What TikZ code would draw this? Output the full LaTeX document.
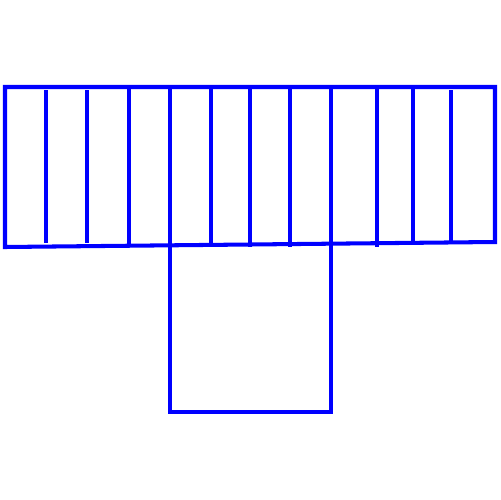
\documentclass[tikz,border=0pt]{standalone}
\usetikzlibrary{calc}

\begin{document}
\begin{tikzpicture}[x=0.02cm, y=-0.02cm]

        % Setup the style for the walls
        \tikzset{wall style/.style={draw=blue,
                                    line width=2.3pt,
                                    line cap=rect}}

        \useasboundingbox (0, 0) rectangle (500, 500);

        % Corners of the upper block and the square below
        \coordinate (TL) at (5, 87);
        \coordinate (TR) at (495, 87);
        \coordinate (BR) at (495, 242);
        \coordinate (BL) at (5, 247);
        \coordinate (SL) at (170, 412);
        \coordinate (SR) at (331, 412);

        % Draw the upper block
        \draw[wall style] (TL) -- (TR) -- (BR) -- (BL) -- cycle;

        % Full dividers
        \foreach \x in {129, 170, 250, 290, 377}
            \draw[wall style] (\x, 87) -- (\x, 245);

        % Dividers from the top edge
        \foreach \x in {211, 331, 413}
            \draw[wall style] (\x, 87) -- (\x, 241);

        % Short dividers
        \foreach \x in {46, 87, 451}
            \draw[wall style] (\x, 92) -- (\x, 241);

        % Draw the square below
        \draw[wall style] (170, 246) -- (SL) -- (SR) -- (331, 245);

\end{tikzpicture}
\end{document}
